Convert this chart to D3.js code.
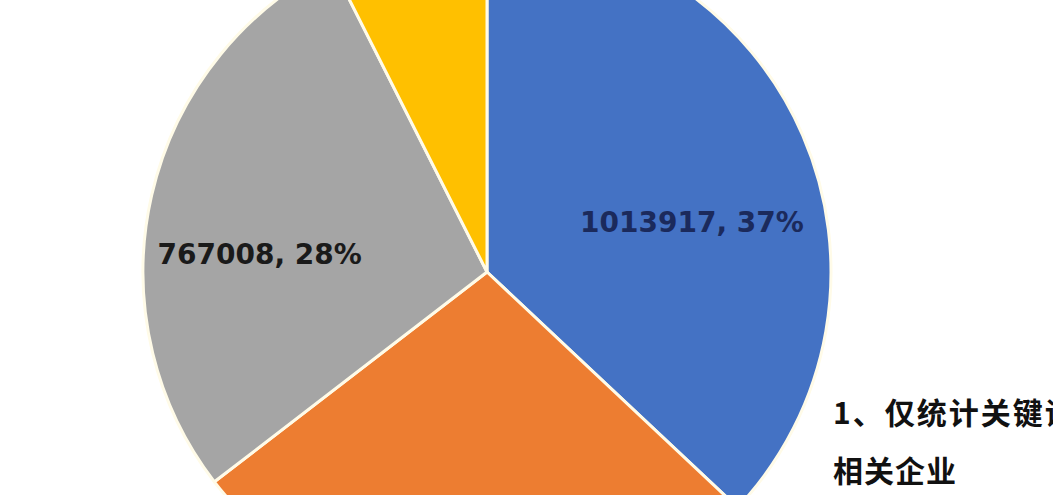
<!DOCTYPE html>
<html>
<head>
<meta charset="utf-8">
<script src="https://cdn.jsdelivr.net/npm/d3@7"></script>
<style>
  html, body { margin: 0; padding: 0; background: #ffffff; overflow: hidden; }
  svg { display: block; }
</style>
</head>
<body>
<svg id="chart" width="1053" height="495"></svg>
<script>
// ---- data ----
const categories = ["蓝", "橙", "灰", "黄"];
const values = [1013917, 755000, 767008, 204000];
const colors = ["#4472C4", "#ED7D31", "#A5A5A5", "#FFC000"];
const labelShown = [true, false, true, false];
const noteLines = ["1、仅统计关键词", "相关企业"];

// ---- layout ----
const W = 1053, H = 495;
const cx = 487, cy = 272, R = 344;
const svg = d3.select("#chart");

const pie = d3.pie().sort(null).value(d => d)(values);
const arc = d3.arc().innerRadius(0).outerRadius(R);

const g = svg.append("g").attr("transform", `translate(${cx},${cy})`);
g.selectAll("path.slice")
  .data(pie)
  .join("path")
  .attr("class", "slice")
  .attr("d", arc)
  .attr("fill", (d, i) => colors[i])
  .attr("stroke", "#fffbe8")
  .attr("stroke-width", 3)
  .attr("stroke-linejoin", "round");

const total = d3.sum(values);
const fmtPct = v => Math.round(v / total * 100) + "%";

// label placement: angle shift (deg) and radius, relative to slice middle
const labelAdjust = [
  { shift: 9.7, r: 211, color: "#1b2a5c" },
  { shift: 0, r: 200, color: "#222" },
  { shift: -8.5, r: 228, color: "#1a1a1a" },
  { shift: 0, r: 250, color: "#222" }
];

g.selectAll("text.lbl")
  .data(pie.filter((d, i) => labelShown[i]).map(d => d))
  .join("text")
  .attr("class", "lbl")
  .each(function(d) {
    const a = labelAdjust[d.index];
    const mid = (d.startAngle + d.endAngle) / 2 + a.shift * Math.PI / 180;
    d3.select(this)
      .attr("x", a.r * Math.sin(mid))
      .attr("y", -a.r * Math.cos(mid))
      .attr("fill", a.color);
  })
  .attr("text-anchor", "middle")
  .attr("dominant-baseline", "central")
  .attr("font-family", "'DejaVu Sans', sans-serif")
  .attr("font-weight", "bold")
  .attr("font-size", 28)
  .text(d => d3.format("d")(d.data) + ", " + fmtPct(d.data));

// note text at right
svg.selectAll("text.note")
  .data(noteLines)
  .join("text")
  .attr("class", "note")
  .attr("x", 833)
  .attr("y", (d, i) => 424 + i * 58)
  .attr("font-family", "'Noto Sans CJK SC', sans-serif")
  .attr("font-weight", "bold")
  .attr("font-size", 30)
  .attr("letter-spacing", (d, i) => i === 0 ? 2 : 1)
  .attr("fill", "#111")
  .text(d => d);
</script>
</body>
</html>
